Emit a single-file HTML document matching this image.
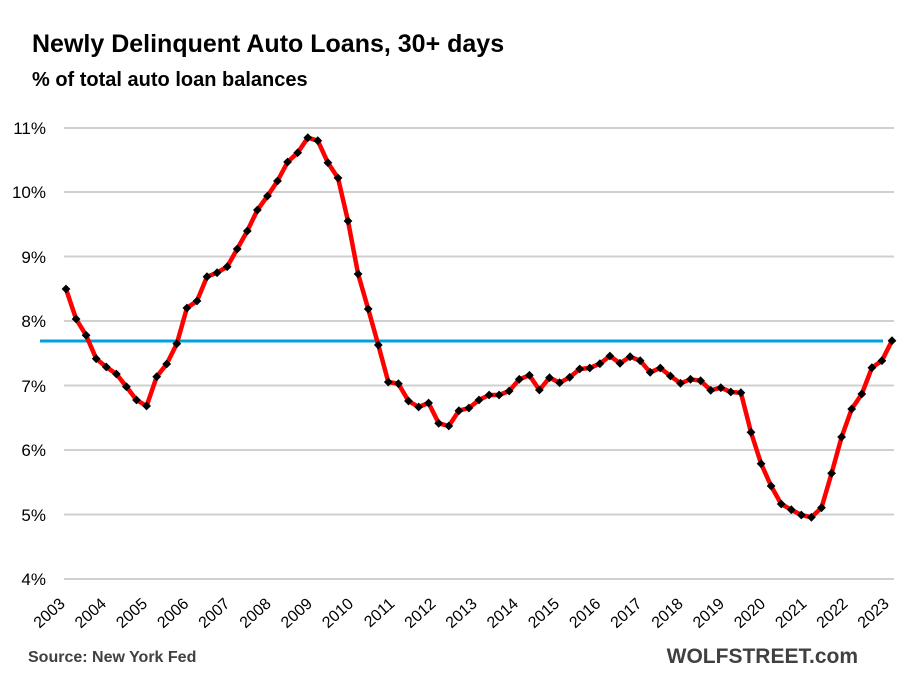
<!DOCTYPE html>
<html><head><meta charset="utf-8"><style>
body{margin:0;background:#fff;}
svg{display:block;font-family:"Liberation Sans",Arial,sans-serif;}
</style></head><body>
<svg width="907" height="687" viewBox="0 0 907 687" xmlns="http://www.w3.org/2000/svg">
<defs>
<marker id="d" markerUnits="userSpaceOnUse" markerWidth="10" markerHeight="10" refX="5" refY="5" viewBox="0 0 10 10">
<path d="M5 0.6 L9.4 5 L5 9.4 L0.6 5 Z" fill="#000"/>
</marker>
</defs>
<rect width="907" height="687" fill="#fff"/>
<text x="32" y="52" font-size="25" font-weight="bold" fill="#000">Newly Delinquent Auto Loans, 30+ days</text>
<text x="32" y="86" font-size="20" font-weight="bold" fill="#000">% of total auto loan balances</text>
<g stroke="#d0d0d0" stroke-width="2">
<line x1="64" x2="894" y1="128" y2="128"/>
<line x1="64" x2="894" y1="192" y2="192"/>
<line x1="64" x2="894" y1="256.5" y2="256.5"/>
<line x1="64" x2="894" y1="321" y2="321"/>
<line x1="64" x2="894" y1="385.5" y2="385.5"/>
<line x1="64" x2="894" y1="450" y2="450"/>
<line x1="64" x2="894" y1="514.5" y2="514.5"/>
<line x1="64" x2="894" y1="579" y2="579"/>
</g>
<g font-size="17" fill="#000" text-anchor="end">
<text x="46" y="134">11%</text>
<text x="46" y="198">10%</text>
<text x="46" y="263">9%</text>
<text x="46" y="327">8%</text>
<text x="46" y="392">7%</text>
<text x="46" y="456">6%</text>
<text x="46" y="521">5%</text>
<text x="46" y="585">4%</text>
</g>
<line x1="40" x2="883" y1="341" y2="341" stroke="#00a0e0" stroke-width="3"/>
<g font-size="16" fill="#000" text-anchor="end">
<text x="66" y="605" transform="rotate(-42 66 605)">2003</text>
<text x="107.2" y="605" transform="rotate(-42 107.2 605)">2004</text>
<text x="148.4" y="605" transform="rotate(-42 148.4 605)">2005</text>
<text x="189.6" y="605" transform="rotate(-42 189.6 605)">2006</text>
<text x="230.8" y="605" transform="rotate(-42 230.8 605)">2007</text>
<text x="272" y="605" transform="rotate(-42 272 605)">2008</text>
<text x="313.2" y="605" transform="rotate(-42 313.2 605)">2009</text>
<text x="354.4" y="605" transform="rotate(-42 354.4 605)">2010</text>
<text x="395.6" y="605" transform="rotate(-42 395.6 605)">2011</text>
<text x="436.8" y="605" transform="rotate(-42 436.8 605)">2012</text>
<text x="478" y="605" transform="rotate(-42 478 605)">2013</text>
<text x="519.2" y="605" transform="rotate(-42 519.2 605)">2014</text>
<text x="560.4" y="605" transform="rotate(-42 560.4 605)">2015</text>
<text x="601.6" y="605" transform="rotate(-42 601.6 605)">2016</text>
<text x="642.8" y="605" transform="rotate(-42 642.8 605)">2017</text>
<text x="684" y="605" transform="rotate(-42 684 605)">2018</text>
<text x="725.2" y="605" transform="rotate(-42 725.2 605)">2019</text>
<text x="766.4" y="605" transform="rotate(-42 766.4 605)">2020</text>
<text x="807.6" y="605" transform="rotate(-42 807.6 605)">2021</text>
<text x="848.8" y="605" transform="rotate(-42 848.8 605)">2022</text>
<text x="890" y="605" transform="rotate(-42 890 605)">2023</text>
</g>
<polyline fill="none" stroke="#ff0000" stroke-width="4.5" stroke-linejoin="round" marker-start="url(#d)" marker-mid="url(#d)" marker-end="url(#d)" points="66,289 76.1,319 86.1,335.3 96.2,358.7 106.3,367 116.4,374 126.4,386.7 136.5,400 146.6,406 156.7,376.7 166.7,364 176.8,343.7 186.9,308 197,301 207,276.7 217.1,272.7 227.2,266.7 237.2,249 247.3,231 257.4,210 267.5,196 277.5,181 287.6,162 297.7,152.7 307.8,137.7 317.8,140.7 327.9,162.7 338,178 348,221 358.1,274 368.2,309 378.3,345 388.3,382 398.4,383.7 408.5,401 418.6,407 428.6,403 438.7,423.3 448.8,426 458.9,410.7 468.9,408 479,400 489.1,395 499.1,395 509.2,391 519.3,379.3 529.4,375.3 539.4,390 549.5,377.7 559.6,382.7 569.7,377.3 579.7,369 589.8,368 599.9,363.7 609.9,356 620,363.3 630.1,356.7 640.2,360.7 650.2,372.3 660.3,368 670.4,376 680.5,383.3 690.5,379.3 700.6,380.7 710.7,390.3 720.8,387.7 730.8,392 740.9,392.7 751,432.3 761.1,463.7 771.1,486 781.2,504 791.3,509.7 801.3,515 811.4,517.3 821.5,507.7 831.6,473.3 841.6,437 851.7,409 861.8,394 871.9,367.7 881.9,360.7 892,340.7"/>
<text x="28" y="662" font-size="16" font-weight="bold" fill="#404040">Source: New York Fed</text>
<text x="858" y="663" font-size="21" font-weight="bold" fill="#404040" text-anchor="end">WOLFSTREET.com</text>
</svg>
</body></html>
